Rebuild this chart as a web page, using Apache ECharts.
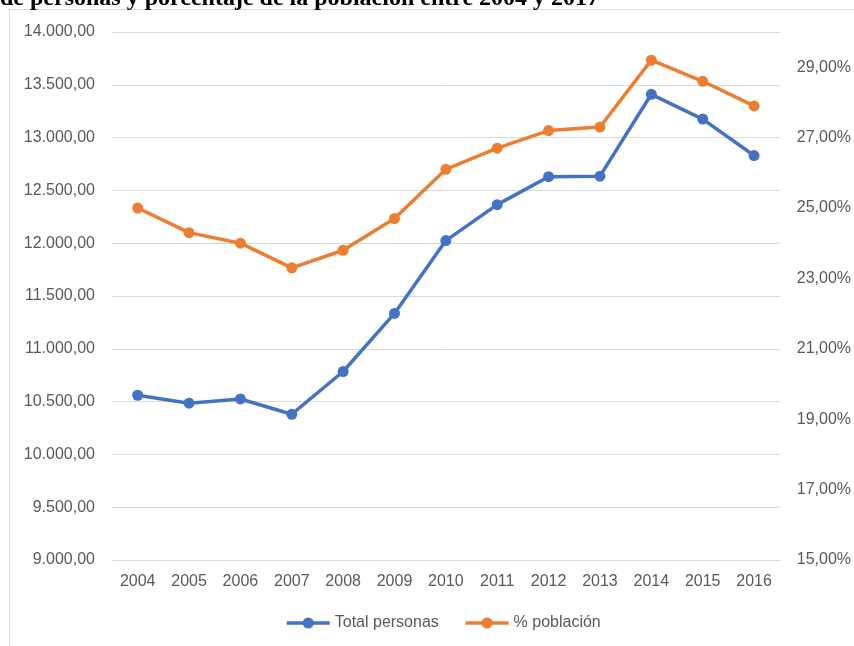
<!DOCTYPE html>
<html>
<head>
<meta charset="utf-8">
<script src="https://cdn.jsdelivr.net/npm/echarts@6/dist/echarts.min.js"></script>
<style>
  html, body { margin: 0; padding: 0; background: #fff; }
  #main { width: 854px; height: 646px; }
</style>
</head>
<body>
<div id="main"></div>
<script>
// datos
const years = ['2004', '2005', '2006', '2007', '2008', '2009', '2010', '2011', '2012', '2013', '2014', '2015', '2016']
const totalPersonas = [10560, 10485, 10525, 10380, 10785, 11335, 12025, 12365, 12630, 12635, 13410, 13175, 12830]
const pctPoblacion = [25.0, 24.3, 24.0, 23.3, 23.8, 24.7, 26.1, 26.7, 27.2, 27.3, 29.2, 28.6, 27.9]

const labelColor = '#595959'
const gridColor = '#d9d9d9'
const baseFont = 'Liberation Sans'

// 14000 -> "14.000,00"
function fmtMiles(v) {
  const parts = v.toFixed(2).split('.')
  return parts[0].replace(/\B(?=(\d{3})+(?!\d))/g, '.') + ',' + parts[1]
}

const myChart = echarts.init(document.getElementById('main'))

const option = {
  backgroundColor: '#fff',
  animation: false,
  textStyle: { fontFamily: baseFont },
  title: {
    text: 'de personas y porcentaje de la población entre 2004 y 2017',
    left: 0,
    top: -13,
    padding: 0,
    textStyle: {
      fontFamily: 'Liberation Serif',
      fontWeight: 'bold',
      fontSize: 24,
      color: '#000'
    }
  },
  graphic: [{
    type: 'rect',
    shape: { x: 9.5, y: 9.5, width: 900, height: 700 },
    style: { fill: null, stroke: gridColor, lineWidth: 1 },
    z: -1
  }],
  legend: {
    bottom: 10,
    left: 280,
    itemWidth: 43,
    itemHeight: 14,
    itemGap: 25,
    lineStyle: { width: 3.5 },
    textStyle: { fontSize: 16, color: labelColor, fontFamily: baseFont },
    data: ['Total personas', '% población']
  },
  grid: {
    left: 112,
    right: 72,
    top: 32,
    bottom: 86
  },
  xAxis: {
    type: 'category',
    boundaryGap: true,
    data: years,
    axisLine: { show: true, lineStyle: { color: gridColor, width: 1 } },
    axisTick: { show: false },
    axisLabel: { color: labelColor, fontSize: 16, margin: 14, fontFamily: baseFont }
  },
  yAxis: [
    {
      type: 'value',
      position: 'left',
      min: 9000,
      max: 14000,
      interval: 500,
      axisLine: { show: false },
      axisTick: { show: false },
      splitLine: { lineStyle: { color: gridColor, width: 1 } },
      axisLabel: {
        color: labelColor,
        fontSize: 16,
        margin: 17,
        fontFamily: baseFont,
        formatter: fmtMiles
      }
    },
    {
      type: 'value',
      position: 'right',
      min: 15,
      max: 30,
      interval: 1,
      axisLine: { show: false },
      axisTick: { show: false },
      splitLine: { show: false },
      axisLabel: {
        color: labelColor,
        fontSize: 16,
        margin: 17,
        fontFamily: baseFont,
        formatter: function (v) {
          // solo valores impares como en el original
          return v % 2 === 1 ? v.toFixed(2).replace('.', ',') + '%' : ''
        }
      }
    }
  ],
  series: [
    {
      name: 'Total personas',
      type: 'line',
      yAxisIndex: 0,
      data: totalPersonas,
      symbol: 'circle',
      symbolSize: 11,
      itemStyle: { color: '#4472C4' },
      lineStyle: { color: '#4472C4', width: 3.5 }
    },
    {
      name: '% población',
      type: 'line',
      yAxisIndex: 1,
      data: pctPoblacion,
      symbol: 'circle',
      symbolSize: 11,
      itemStyle: { color: '#ED7D31' },
      lineStyle: { color: '#ED7D31', width: 3.5 }
    }
  ]
}

myChart.setOption(option)
</script>
</body>
</html>
